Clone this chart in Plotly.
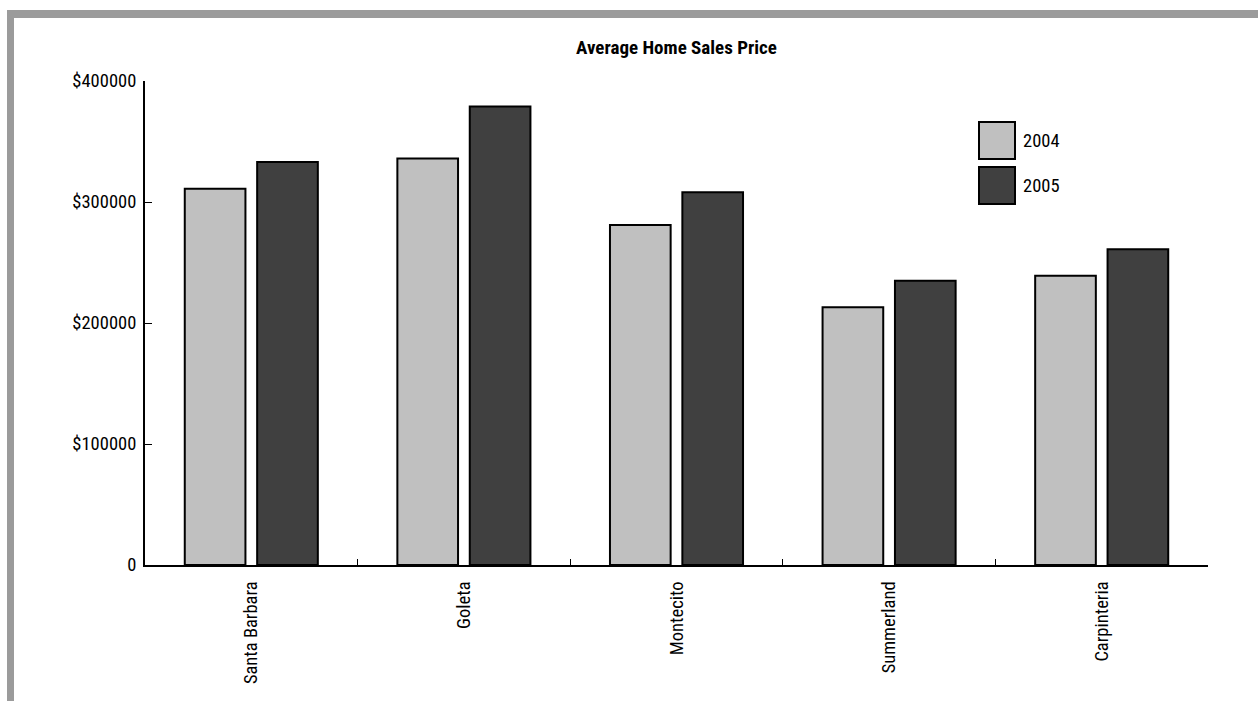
import plotly.graph_objects as go

# ---- data ----
cities = ["Santa Barbara", "Goleta", "Montecito", "Summerland", "Carpinteria"]
series_names = ["2004", "2005"]
prices_2004 = [311000, 336000, 281000, 213000, 239000]
prices_2005 = [333000, 379000, 308000, 235000, 261000]
y_tickvals = [0, 100000, 200000, 300000, 400000]
y_ticktext = ["0", "$100000", "$200000", "$300000", "$400000"]
title_text = "Average Home Sales Price"

colors = ["#c0c0c0", "#404040"]
FONT = "Liberation Sans Narrow, Arial Narrow, Roboto Condensed, Liberation Sans, sans-serif"

W, H = 1258, 701
# plot area in page pixels: x 145..1208, y 81..565
L, T = 145, 81
R = W - 1208
B = H - 565
pw, ph = W - L - R, H - T - B


def px_x(px):
    return (px - L) / pw


def px_y(py):
    return (H - B - py) / ph


fig = go.Figure()
for name, vals, col in zip(series_names, [prices_2004, prices_2005], colors):
    fig.add_trace(go.Bar(
        x=cities, y=vals, name=name,
        marker=dict(color=col, line=dict(color="black", width=2)),
        showlegend=False,
    ))

shapes = []
# gray frame (top and left)
shapes.append(dict(type="rect", xref="paper", yref="paper",
                   x0=px_x(7), x1=px_x(1300), y0=px_y(18), y1=px_y(10),
                   fillcolor="#9b9b9b", line=dict(width=0), layer="below"))
shapes.append(dict(type="rect", xref="paper", yref="paper",
                   x0=px_x(7), x1=px_x(14), y0=px_y(720), y1=px_y(10),
                   fillcolor="#9b9b9b", line=dict(width=0), layer="below"))

# custom legend
annotations = []
leg_tops = [122, 167]
for name, col, top in zip(series_names, colors, leg_tops):
    shapes.append(dict(type="rect", xref="paper", yref="paper",
                       x0=px_x(979), x1=px_x(1015), y0=px_y(top + 37), y1=px_y(top),
                       fillcolor=col, line=dict(color="black", width=2)))
    annotations.append(dict(xref="paper", yref="paper", x=px_x(1021), y=px_y(top + 19),
                            text=name, showarrow=False, xanchor="left", yanchor="middle",
                            font=dict(family=FONT, size=18.5, color="black")))

fig.update_layout(
    width=W, height=H,
    margin=dict(l=L, r=R, t=T, b=B, pad=0),
    paper_bgcolor="white", plot_bgcolor="white",
    barmode="group", bargap=0.319, bargroupgap=0.162,
    title=dict(text="<b>" + title_text + "</b>", x=(L + pw / 2) / W, xanchor="center",
               xref="container", yref="container", y=1 - 47 / H, yanchor="middle",
               font=dict(family=FONT, size=19, color="black")),
    font=dict(family=FONT, size=18.5, color="black"),
    shapes=shapes, annotations=annotations,
    xaxis=dict(
        showline=True, linecolor="black", linewidth=2,
        ticks="inside", tickson="boundaries", ticklen=6, tickwidth=1, tickcolor="black",
        tickangle=-90, ticklabelstandoff=7,
        showgrid=False, zeroline=False,
        tickfont=dict(family=FONT, size=18.5, color="black"),
    ),
    yaxis=dict(
        range=[0, 400000], showline=True, linecolor="black", linewidth=2,
        tickvals=y_tickvals, ticktext=y_ticktext,
        ticks="inside", ticklen=7, tickwidth=1, tickcolor="black",
        ticklabelstandoff=3,
        showgrid=False, zeroline=False,
        tickfont=dict(family=FONT, size=18.5, color="black"),
    ),
)

fig.write_html("out.html",
               config={"displayModeBar": False},
               post_script="document.body.style.margin='0';document.body.style.overflow='hidden';")
